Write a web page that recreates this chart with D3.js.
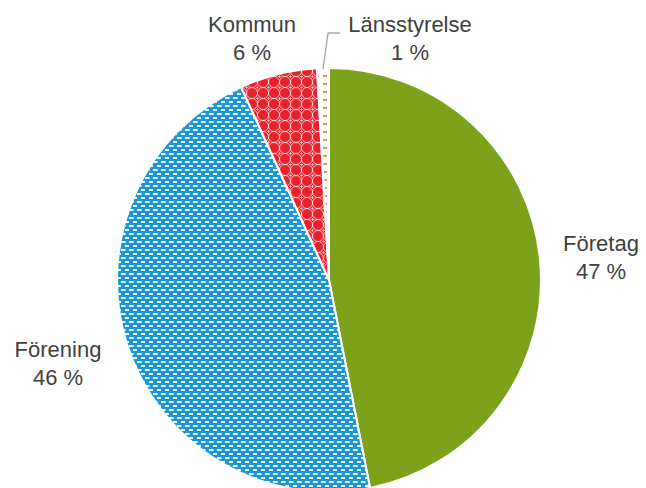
<!DOCTYPE html>
<html><head><meta charset="utf-8">
<script src="https://cdn.jsdelivr.net/npm/d3@7/dist/d3.min.js"></script>
<style>body{margin:0;background:#fff}svg{display:block}</style>
</head><body>
<script>
const categories = ["Företag", "Förening", "Kommun", "Länsstyrelse"];
const values = [46.9, 46.3, 5.9, 0.9];
const labels = ["47 %", "46 %", "6 %", "1 %"];

const W = 646, H = 488, cx = 329, cy = 280, R = 212;
const svg = d3.select("body").append("svg").attr("width", W).attr("height", H);
const defs = svg.append("defs");

// Blue brick pattern
const pb = defs.append("pattern").attr("id","pBlue").attr("patternUnits","userSpaceOnUse").attr("width",8).attr("height",8);
pb.append("rect").attr("width",8).attr("height",8).attr("fill","#1d97d6");
pb.append("rect").attr("x",0).attr("y",1).attr("width",4.6).attr("height",2).attr("fill","#fff").attr("opacity",0.92);
pb.append("rect").attr("x",4).attr("y",5).attr("width",4.6).attr("height",2).attr("fill","#fff").attr("opacity",0.92);

// Red trellis pattern
const P = 11;
const pr = defs.append("pattern").attr("id","pRed").attr("patternUnits","userSpaceOnUse").attr("width",P).attr("height",P);
pr.append("rect").attr("width",P).attr("height",P).attr("fill","#e8222c");
[[0,0],[P,0],[0,P],[P,P]].forEach(([x,y])=>{
  pr.append("circle").attr("cx",x).attr("cy",y).attr("r",P/2).attr("fill","none").attr("stroke","#fff").attr("stroke-width",0.9).attr("opacity",0.75);
});
pr.append("path").attr("d",`M${P/2-1.5},${P/2}h3M${P/2},${P/2-1.5}v3`).attr("stroke","#fff").attr("stroke-width",0.8).attr("opacity",0.7);

// Orange dash pattern
const po = defs.append("pattern").attr("id","pOrange").attr("patternUnits","userSpaceOnUse").attr("width",8).attr("height",8);
po.append("rect").attr("width",8).attr("height",8).attr("fill","#fff");
po.append("rect").attr("x",2).attr("y",3).attr("width",4).attr("height",1.8).attr("fill","#e8891c");

const fills = ["#7ba21a", "url(#pBlue)", "url(#pRed)", "url(#pOrange)"];

const pie = d3.pie().sort(null).value(d => d)(values);
const arc = d3.arc().innerRadius(0).outerRadius(R);
const g = svg.append("g").attr("transform", `translate(${cx},${cy})`);
g.selectAll("path").data(pie).join("path")
  .attr("d", arc).attr("fill", (d,i) => fills[i])
  .attr("stroke", "#fff").attr("stroke-width", 2).attr("stroke-linejoin","round");

// Leader line for Länsstyrelse
const ls = pie[3];
const mid = (ls.startAngle + ls.endAngle)/2;
const p0 = [cx + Math.sin(mid)*(R-1), cy - Math.cos(mid)*(R-1)];
svg.append("path").attr("d", `M${p0[0]},${p0[1]} L${p0[0]+5},33 L340,33`)
  .attr("fill","none").attr("stroke","#a6a6a6").attr("stroke-width",1.3);

const labelPos = [[601, 251], [58, 357], [252, 32], [410, 32]];
categories.forEach((c,i) => {
  const t = svg.append("text").attr("text-anchor","middle")
    .attr("font-family","Liberation Sans, Arial, sans-serif").attr("font-size",22).attr("fill","#404040");
  t.append("tspan").attr("x", labelPos[i][0]).attr("y", labelPos[i][1]).text(c);
  t.append("tspan").attr("x", labelPos[i][0]).attr("y", labelPos[i][1] + 28).text(labels[i]);
});
</script>
</body></html>
